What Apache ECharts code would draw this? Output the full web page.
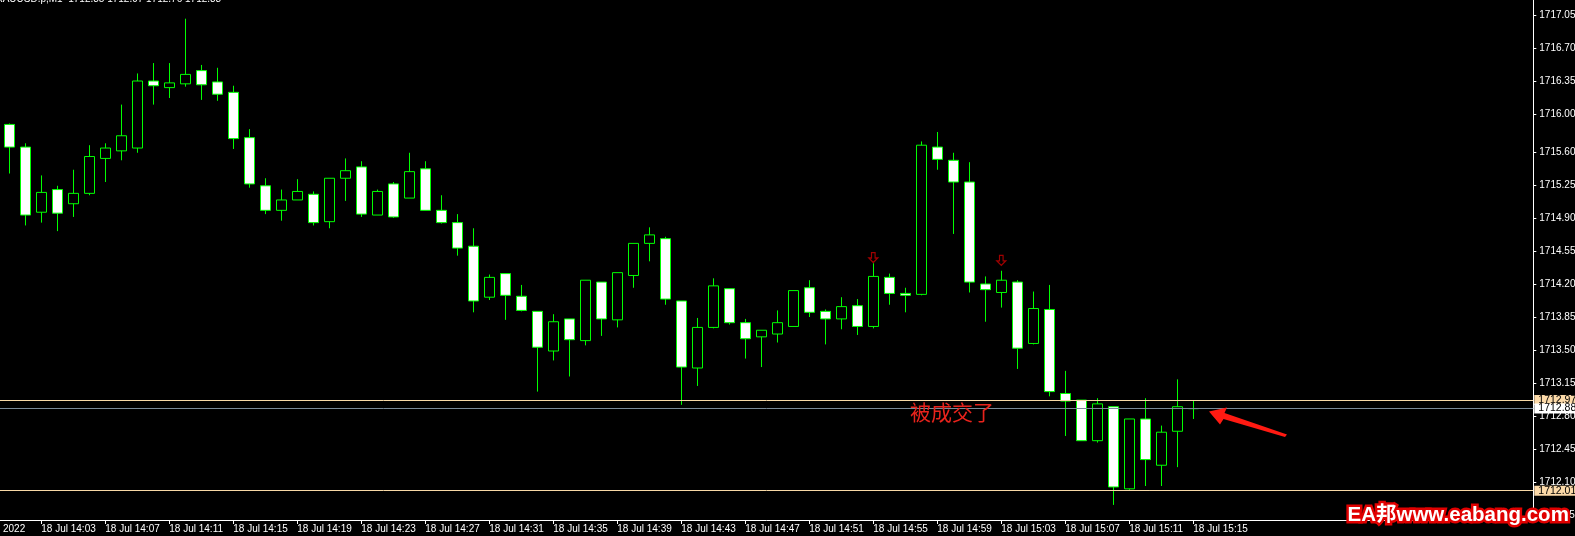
<!DOCTYPE html>
<html>
<head>
<meta charset="utf-8">
<script src="https://cdn.jsdelivr.net/npm/echarts@6/dist/echarts.min.js"></script>
<style>
html,body{margin:0;padding:0;background:#000;}
#c{width:1575px;height:536px;}
</style>
</head>
<body>
<div id="c"></div>
<script>
// ---- data (M1 candles, 18 Jul 14:01 .. 15:15) ----
const opens = [1715.89,1715.65,1714.96,1715.20,1715.05,1715.16,1715.53,1715.61,1715.64,1716.35,
1716.28,1716.32,1716.46,1716.34,1716.23,1715.75,1715.24,1714.98,1715.09,1715.15,
1714.86,1715.32,1715.44,1714.93,1715.26,1715.11,1715.42,1714.98,1714.85,1714.60,
1714.06,1714.31,1714.07,1713.91,1713.49,1713.83,1713.60,1714.22,1713.82,1714.29,
1714.63,1714.68,1714.02,1713.31,1713.74,1714.15,1713.79,1713.64,1713.67,1713.75,
1714.16,1713.91,1713.83,1713.97,1713.75,1714.27,1714.10,1714.09,1715.65,1715.51,
1715.28,1714.20,1714.11,1714.22,1713.57,1713.93,1713.04,1712.97,1712.54,1712.90,
1712.03,1712.77,1712.28,1712.64,1712.88];
const closes = [1715.65,1714.93,1715.17,1714.95,1715.16,1715.55,1715.64,1715.77,1716.35,1716.30,
1716.33,1716.42,1716.31,1716.21,1715.74,1715.26,1714.98,1715.09,1715.18,1714.85,
1715.32,1715.40,1714.94,1715.18,1714.91,1715.39,1714.98,1714.85,1714.58,1714.02,
1714.27,1714.08,1713.92,1713.53,1713.80,1713.61,1714.24,1713.83,1714.32,1714.63,
1714.72,1714.04,1713.32,1713.74,1714.18,1713.79,1713.62,1713.71,1713.79,1714.13,
1713.90,1713.83,1713.96,1713.75,1714.28,1714.10,1714.08,1715.67,1715.52,1715.28,
1714.22,1714.14,1714.24,1713.52,1713.94,1713.06,1712.96,1712.54,1712.93,1712.05,
1712.77,1712.34,1712.63,1712.90,1712.88];
const lows = [1715.37,1714.82,1714.85,1714.76,1714.91,1715.14,1715.28,1715.51,1715.59,1716.10,
1716.17,1716.29,1716.15,1716.14,1715.63,1715.22,1714.94,1714.87,1715.09,1714.82,
1714.79,1715.08,1714.91,1714.93,1714.90,1715.11,1714.98,1714.84,1714.50,1713.90,
1714.03,1713.82,1713.91,1713.06,1713.39,1713.22,1713.55,1713.65,1713.74,1714.16,
1714.44,1713.98,1712.92,1713.12,1713.73,1713.77,1713.41,1713.32,1713.58,1713.75,
1713.85,1713.56,1713.72,1713.66,1713.73,1713.98,1713.90,1714.08,1715.41,1714.73,
1714.11,1713.80,1713.95,1713.30,1713.56,1713.01,1712.59,1712.54,1712.52,1711.86,
1712.02,1712.06,1712.06,1712.26,1712.77];
const highs = [1715.90,1715.69,1715.35,1715.24,1715.41,1715.67,1715.69,1716.10,1716.43,1716.54,
1716.54,1717.01,1716.52,1716.49,1716.30,1715.84,1715.32,1715.20,1715.31,1715.18,
1715.32,1715.53,1715.50,1715.20,1715.28,1715.59,1715.50,1715.14,1714.94,1714.79,
1714.30,1714.31,1714.19,1713.91,1713.88,1713.83,1714.24,1714.22,1714.32,1714.63,
1714.80,1714.70,1714.02,1713.84,1714.26,1714.15,1713.83,1713.71,1713.92,1714.13,
1714.24,1713.93,1714.06,1714.04,1714.42,1714.31,1714.16,1715.71,1715.81,1715.59,
1715.49,1714.28,1714.34,1714.24,1714.12,1714.19,1713.28,1712.97,1712.99,1712.90,
1712.77,1712.99,1712.70,1713.19,1712.96];

const timeTickIdx = [2,6,10,14,18,22,26,30,34,38,42,46,50,54,58,62,66,70,74];
const timeTickLabels = ['18 Jul 14:03','18 Jul 14:07','18 Jul 14:11','18 Jul 14:15','18 Jul 14:19',
'18 Jul 14:23','18 Jul 14:27','18 Jul 14:31','18 Jul 14:35','18 Jul 14:39','18 Jul 14:43',
'18 Jul 14:47','18 Jul 14:51','18 Jul 14:55','18 Jul 14:59','18 Jul 15:03','18 Jul 15:07',
'18 Jul 15:11','18 Jul 15:15'];
const priceTicks = [1717.05,1716.70,1716.35,1716.00,1715.60,1715.25,1714.90,1714.55,1714.20,
1713.85,1713.50,1713.15,1712.80,1712.45,1712.10,1711.75];

const hLinesTan = [1712.97, 1712.01];
const bidLine = [1712.88];
const arrowIdx = [54, 62];
const arrowPrice = [1714.48, 1714.45];

const titleText = 'XAUUSD.p,M1  1712.85 1712.97 1712.76 1712.88';
const noteText = '被成交了';
const watermark = 'EA邦www.eabang.com';

// ---- build ----
const candles = opens.map((o, i) => [i, o, closes[i], lows[i], highs[i]]);
const arrows = arrowIdx.map((x, i) => [x, arrowPrice[i]]);
const FONT = '"Liberation Sans",Arial,sans-serif';
const chart = echarts.init(document.getElementById('c'), null, {renderer: 'canvas'});

const tagLabel = (bg, fg) => ({
  show: true, position: 'end', distance: 1,
  formatter: p => Number(p.value).toFixed(2),
  backgroundColor: bg, color: fg, fontFamily: FONT, fontSize: 10.5,
  padding: [0, 8, 0, 4], lineHeight: 10
});

chart.setOption({
  backgroundColor: '#000',
  animation: false,
  grid: {left: 0, right: 41.7, top: 0, bottom: 16, containLabel: false, outerBoundsMode: 'none'},
  xAxis: {
    type: 'value', min: -0.58, max: 95.25, z: 1,
    splitLine: {show: false},
    axisLine: {show: true, lineStyle: {color: '#fff', width: 1}},
    axisTick: {show: true, customValues: timeTickIdx, length: 4, lineStyle: {color: '#fff'}},
    axisLabel: {
      show: true, customValues: timeTickIdx, align: 'left', margin: 4,
      color: '#fff', fontFamily: FONT, fontSize: 10,
      formatter: v => timeTickLabels[timeTickIdx.indexOf(Math.round(v))] || ''
    }
  },
  yAxis: {
    type: 'value', position: 'right', min: 1711.70, max: 1717.208, scale: true, z: 1,
    splitLine: {show: false},
    axisLine: {show: true, onZero: false, lineStyle: {color: '#fff', width: 1}},
    axisTick: {show: true, customValues: priceTicks, length: 3, lineStyle: {color: '#fff'}},
    axisLabel: {
      show: true, customValues: priceTicks, margin: 6,
      color: '#fff', fontFamily: FONT, fontSize: 10,
      formatter: v => Number(v).toFixed(2)
    }
  },
  series: [
    {
      type: 'candlestick',
      data: candles,
      encode: {x: 0, y: [1, 2, 3, 4]},
      barWidth: 10,
      itemStyle: {
        color: '#000', color0: '#fff',
        borderColor: '#00ff00', borderColor0: '#00ff00', borderWidth: 1
      },
      markLine: {
        silent: true, symbol: ['none', 'none'], z: 8,
        data: [
          {yAxis: hLinesTan[0], lineStyle: {color: '#f8d9a6', width: 1, type: 'solid'}, label: tagLabel('#fbd9a8', '#000')},
          {yAxis: bidLine[0], lineStyle: {color: '#7a8a99', width: 1, type: 'solid'}, label: tagLabel('#ffffff', '#000')},
          {yAxis: hLinesTan[1], lineStyle: {color: '#f8d9a6', width: 1, type: 'solid'}, label: tagLabel('#fbd9a8', '#000')}
        ]
      },
      z: 5
    },
    {
      type: 'scatter',
      data: arrows,
      symbol: 'path://M3,0 L7,0 L7,6 L10,6 L5,11 L0,6 L3,6 Z',
      symbolSize: [9, 10],
      itemStyle: {color: '#000', borderColor: '#c80000', borderWidth: 1.2},
      z: 6
    }
  ],
  graphic: [
    {type: 'text', left: -4, top: -6, z: 10,
     style: {text: titleText, fill: '#fff', font: '10px ' + FONT}},
    {type: 'text', left: 3, top: 524, z: 10,
     style: {text: '2022', fill: '#fff', font: '10px ' + FONT}},
    {type: 'text', left: 910, top: 402, z: 10,
     style: {text: noteText, fill: '#e8231c', font: '21px "Noto Sans CJK SC", sans-serif'}},
    {type: 'polygon', z: 10,
     shape: {points: [[1209,411.5],[1227,407.5],[1224.5,413],[1287,434.5],[1285,437],[1223.5,419],[1220,424.5]]},
     style: {fill: '#ff1a12'}},
    {type: 'text', left: 1345, top: 503, z: 20,
     style: {text: watermark, fill: '#fff', stroke: '#e00000', lineWidth: 5,
             font: 'bold 20.5px "Liberation Sans","Noto Sans CJK SC",sans-serif'}}
  ]
});
</script>
</body>
</html>
